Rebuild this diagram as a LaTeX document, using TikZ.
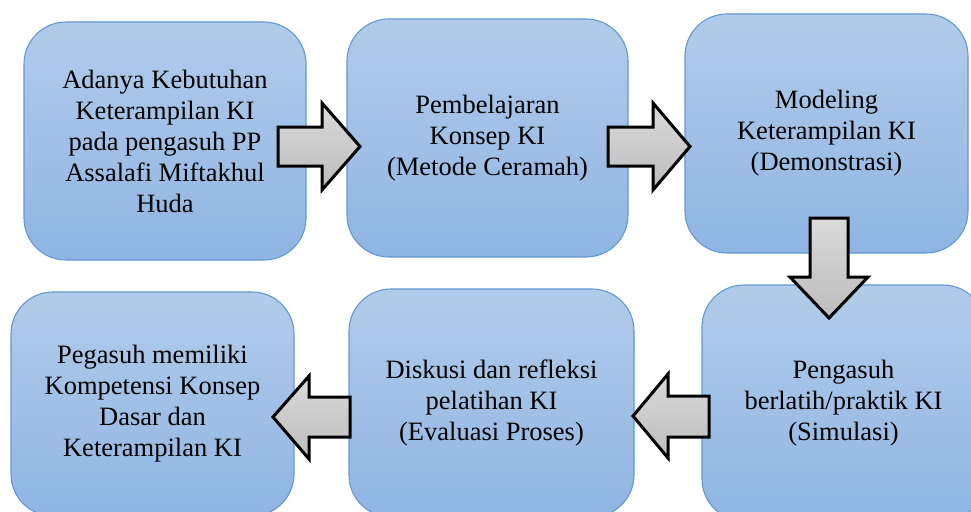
\documentclass[tikz,border=0pt]{standalone}
\usepackage{fontspec}
\setmainfont{Liberation Serif}
\newfontfamily\tnrfont{Liberation Serif}
\definecolor{boxtop}{RGB}{178,203,234}
\definecolor{boxbot}{RGB}{143,181,227}
\definecolor{boxline}{RGB}{98,153,210}
\definecolor{arrtop}{RGB}{218,218,218}
\definecolor{arrbot}{RGB}{188,188,188}
\begin{document}
\begin{tikzpicture}[x=1pt,y=-1pt,
  box/.style={draw=boxline, line width=1.1pt, rounded corners=42pt,
    top color=boxtop, bottom color=boxbot, align=center, inner sep=0pt,
    font=\tnrfont\fontsize{26.5}{31}\selectfont},
  blockarrow/.style={draw=black, line width=3pt, line join=miter,
    top color=arrtop, bottom color=arrbot}]
\clip (0,0) rectangle (971,511);
\fill[white] (0,0) rectangle (971,511);
% boxes
\node[box, minimum width=282pt, minimum height=238pt] (b1) at (165,141)
  {Adanya Kebutuhan\\Keterampilan KI\\pada pengasuh PP\\Assalafi Miftakhul\\Huda};
\node[box, minimum width=281pt, minimum height=238pt] (b2) at (487.5,138)
  {Pembelajaran\\Konsep KI\\(Metode Ceramah)};
\node[box, minimum width=283pt, minimum height=239pt] (b3) at (826.5,133.5)
  {Modeling\\Keterampilan KI\\(Demonstrasi)};
\node[box, minimum width=283pt, minimum height=236pt] (b4) at (843.5,403)
  {Pengasuh\\berlatih/praktik KI\\(Simulasi)};
\node[box, minimum width=285pt, minimum height=228pt] (b5) at (491.5,403)
  {Diskusi dan refleksi\\pelatihan KI\\(Evaluasi Proses)};
\node[box, minimum width=283pt, minimum height=224pt] (b6) at (152.5,404)
  {Pegasuh memiliki\\Kompetensi Konsep\\Dasar dan\\Keterampilan KI};
% block arrows
\draw[blockarrow] (278,127) -- (322,127) -- (322,103) -- (360,146.5) -- (322,190) -- (322,166) -- (278,166) -- cycle;
\draw[blockarrow] (608,127) -- (653,127) -- (653,103) -- (690,146.5) -- (653,190) -- (653,166) -- (608,166) -- cycle;
\draw[blockarrow] (810,218) -- (848,218) -- (848,277) -- (868,277) -- (829,318) -- (790,277) -- (810,277) -- cycle;
\draw[blockarrow] (709,396) -- (668,396) -- (668,374) -- (633,416) -- (668,458) -- (668,437) -- (709,437) -- cycle;
\draw[blockarrow] (350,397) -- (309,397) -- (309,376) -- (273,417) -- (309,459) -- (309,437) -- (350,437) -- cycle;
\end{tikzpicture}
\end{document}
